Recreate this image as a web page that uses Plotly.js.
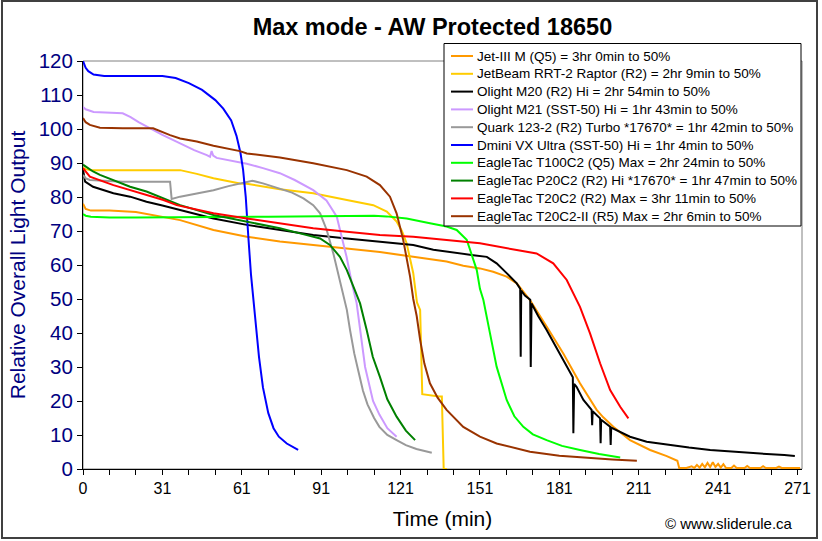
<!DOCTYPE html>
<html>
<head>
<meta charset="utf-8">
<script src="https://cdn.plot.ly/plotly-3.0.1.min.js"></script>
<style>
  html, body { margin: 0; padding: 0; background: #fff; }
  #wrap { position: relative; width: 822px; height: 541px; }
  #chart { position: absolute; left: 0; top: 0; width: 822px; height: 541px; }
  #frame { position: absolute; left: 1px; top: 0px; width: 817px; height: 539px; border: 2px solid #404040; box-sizing: border-box; pointer-events: none; }
</style>
</head>
<body>
<div id="wrap"><div id="chart"></div><div id="frame"></div></div>
<script>
// Tick labels (x axis, labels every third tick)
const xTickVals = [0,10,20,30,40,50,60,70,80,90,100,110,120,130,140,150,160,170,180,190,200,210,220,230,240,250,260,270];
const xTickText = ['0','','','31','','','61','','','91','','','121','','','151','','','181','','','211','','','241','','','271'];

const seriesNames = [
  'Jet-III M (Q5) = 3hr 0min to 50%',
  'JetBeam RRT-2 Raptor (R2) = 2hr 9min to 50%',
  'Olight M20 (R2) Hi = 2hr 54min to 50%',
  'Olight M21 (SST-50) Hi = 1hr 43min to 50%',
  'Quark 123-2 (R2) Turbo *17670* = 1hr 42min to 50%',
  'Dmini VX Ultra (SST-50) Hi = 1hr 4min to 50%',
  'EagleTac T100C2 (Q5) Max = 2hr 24min to 50%',
  'EagleTac P20C2 (R2) Hi *17670* = 1hr 47min to 50%',
  'EagleTac T20C2 (R2) Max = 3hr 11min to 50%',
  'EagleTac T20C2-II (R5) Max = 2hr 6min to 50%'
];
const seriesColors = ['#FF9900','#FFCC00','#000000','#CC99FF','#999999','#0000FF','#00FF00','#008000','#FF0000','#993300'];

// Jet-III M (orange)
const jet3X = [0,1,3,10,20,28,36.7,49.3,61.9,74.4,87,99.7,112.2,124.8,137.4,143.7,150,155,160.1,163.9,168.9,175.2,181.5,187.8,194.1,196.6,200.4,206.7,208,214.3,220.6,223.7,224.6,225.3,228,230,231,232,233,234,235,236,237,238,239,240,241,242,243,245,246,247,250,251,252,256,257,258,262,263,264,271];
const jet3Y = [78,76.5,76,76,75.6,74.5,73.2,70.3,68.3,66.9,65.9,64.9,63.8,62.4,61,59.8,59,58,56.6,54.6,49.7,41.9,34,25.2,17.4,15.2,12.4,8.5,8,5.6,3.8,2.8,2.4,0.3,0.3,0.8,0.3,1.2,0.4,1.5,0.5,1.8,0.6,2.0,0.6,1.5,0.4,1.4,0.3,0.3,1.0,0.3,0.3,0.9,0.3,0.3,0.8,0.3,0.3,0.7,0.3,0.3];

// JetBeam RRT-2 Raptor (gold)
const rrt2X = [0,1,3,10,20,30,36.7,43,49.3,59.3,61.9,74.4,87,99.7,109.7,114.8,118.5,120.5,122.3,124.8,126.2,127.4,127.8,128.2,134.5,135.6,136.3,137.5];
const rrt2Y = [88.6,88.2,87.9,87.9,87.9,87.9,87.9,86.8,85.5,84,83.9,82.3,81.1,79.1,77.6,75.7,72.8,70,66.4,57.6,49,46.8,32,22,21.3,21.3,0,0];

// Olight M20 (black)
const m20X = [0,0.8,3.8,11.5,17.8,24,30,36.7,49.3,61.9,74.4,87,99.7,112.2,124.8,132.4,137.4,147.5,152.6,156.3,160.1,163.9,165.2,165.4,165.6,167,169,169.2,169.5,172,175.2,181.5,185.1,185.3,185.6,186.5,189.1,192.2,192.4,192.6,195.4,195.6,195.8,199.2,199.4,199.6,203,206.7,213,220.6,229,237,248,258.4,265,269];
const m20Y = [88,84.5,83,81.1,80.1,78.6,77.5,76.2,73.7,71.8,70.3,68.8,67.8,66.9,65.9,64.5,63.9,62.9,62.4,60.5,57.6,54.6,53,33,52.5,51,49.8,30,48.7,45,40.9,32,27,10.5,25,24.2,20.3,17.4,12.9,17,14.9,7.6,14.5,12.4,7.1,12.2,10.8,9.5,8,7.1,6.3,5.6,4.9,4.4,4.1,3.8];

// Olight M21 (lilac)
const m21X = [0,1,4,10,15,18,21,24,30,36.7,42,46.8,48,48.6,49.2,50.5,55,61.9,68,74.4,80,87,92,95.9,99.6,101.5,103.4,104.7,106.6,109.6,112,115,118.5];
const m21Y = [106.5,105.8,105,104.8,104.6,103.5,102,100.8,98.3,95.8,93.8,92.3,91.8,93.5,92.2,91.5,90.8,89.8,88.5,87,85,82,79,74.2,62.4,55,48.8,40.9,30,20,16,12,9.5];

// Quark 123-2 (gray)
const quarkX = [0,1,2.6,10,15,25,32.9,33.5,36.7,43,49.3,55,61.9,64,68,74.4,79,83.3,87,89.6,92.1,94.6,97.1,99.7,100.9,102.5,104,105.8,107.5,110,112,115,118.5,122,126,131.8];
const quarkY = [86.5,85.5,85,84.6,84.5,84.5,84.5,79.4,80.1,81,82,83.2,84.5,84.8,84,82.5,81.3,79.6,77.6,75.2,70.3,63.4,55.6,46.8,40.9,34,29,23,19,15,12.4,10,8.5,7,5.9,4.8];

// Dmini VX Ultra (blue)
const dminiX = [0,1,2,4,8,20,30,35,40,45,50,53,56,58,59.5,60.5,61.5,62.5,63.5,65,66.5,68,70,72,74,77,81.3];
const dminiY = [120,118,117,116,115.6,115.6,115.6,115,113.5,111.5,108.5,106,102.5,98,93,88,80,68,57,45,33,24,16.5,12,9.5,7.5,5.6];

// EagleTac T100C2 (green)
const t100X = [0,1,3,10,20,30,36.7,50,60,70,80,90,100,110,114.7,122.3,131.1,137.4,141.2,145,146.3,147.5,148.8,150,151.3,153.8,156.3,160.1,163,166.4,170,175.2,181,187.8,195,203];
const t100Y = [75,74.5,74.2,74,74,74,74,74,74,74.2,74.3,74.4,74.5,74.5,74.3,73.7,72.3,71.3,70.3,67.4,64.4,61.5,58.5,53,49.7,39.9,30.1,20.3,15.5,12.4,10.2,8.5,6.8,5.6,4.4,3.4];

// EagleTac P20C2 (dark green)
const p20X = [0,1,3.8,6.4,11.5,17.8,24,30.4,36.7,49.3,61.9,74.4,82,89.6,93.3,97.1,99.7,102.2,104.7,107.2,109.5,112.2,115,118.5,122,125.5];
const p20Y = [89.5,89,87.5,86.5,85,83,81.6,79.6,77.6,74.7,72.8,70.8,69.3,67.8,65.9,62.4,58.5,53.6,48.7,40.9,33,27.1,20.5,15.4,11.3,8.5];

// EagleTac T20C2 (red)
const t20X = [0,1,2.6,11.5,17.8,24,30.4,35.4,49.3,61.9,74.4,87,99.7,112.2,124.8,137.4,150,163.9,171.4,177.7,182.8,187.8,191.6,195.4,199.2,203,206.1];
const t20Y = [88.5,87.5,86,83.5,82.1,80.6,79.1,77.6,75.2,73.7,72.3,70.8,69.8,68.8,68.3,67.4,66.4,64.4,63.4,60.5,55.6,47.7,39.9,31.1,23.2,18.3,14.9];

// EagleTac T20C2-II (brown)
const t20iiX = [0,1,2.6,6.4,15,26.5,32.9,36.7,43,49.3,59.3,61.9,74.4,87,99.7,107.2,112.2,116,118.5,121,123.6,124.8,126.1,127.4,129,131.1,134,137.4,143.7,150,156.3,168.9,180,187.8,200,209.3];
const t20iiY = [103.2,102,101.2,100.4,100.2,100.2,98.2,97.2,96.3,95.1,93.5,92.8,91.6,89.9,87.9,86,83.5,80.1,75.2,67.4,56.6,50,45,38,31,25.2,21,17.4,12.4,9.5,7.5,5.1,3.9,3.4,2.8,2.4];

const xs = [jet3X, rrt2X, m20X, m21X, quarkX, dminiX, t100X, p20X, t20X, t20iiX];
const ys = [jet3Y, rrt2Y, m20Y, m21Y, quarkY, dminiY, t100Y, p20Y, t20Y, t20iiY];

const traces = seriesNames.map((n, i) => ({
  type: 'scatter', mode: 'lines', name: n,
  x: xs[i], y: ys[i], showlegend: false,
  line: { color: seriesColors[i], width: 2 }
}));

// Plot area in pixels (for placing the legend box in paper coordinates)
const PL = 83, PR = 802, PT = 61, PB = 469;
const px2p = px => (px - PL) / (PR - PL);
const py2p = py => (PB - py) / (PB - PT);

const FONT = 'Arial, "Liberation Sans", sans-serif';

const shapes = [{
  type: 'rect', xref: 'paper', yref: 'paper', x0: 0, x1: 1, y0: 0, y1: 1,
  line: { color: '#808080', width: 1 }, layer: 'below'
}, {
  type: 'rect', xref: 'paper', yref: 'paper',
  x0: px2p(444), x1: px2p(801), y0: py2p(226), y1: py2p(43.5),
  line: { color: '#000000', width: 1 }, fillcolor: '#ffffff', layer: 'above'
}];
const annotations = [{
  text: '© www.sliderule.ca', xref: 'paper', yref: 'paper',
  x: px2p(795), xanchor: 'right', y: py2p(523), yanchor: 'middle',
  showarrow: false, font: { size: 15, family: FONT, color: '#000000' }
}];
seriesNames.forEach((n, i) => {
  const yc = 56 + i * 17.8;
  shapes.push({
    type: 'line', xref: 'paper', yref: 'paper',
    x0: px2p(451), x1: px2p(473), y0: py2p(yc), y1: py2p(yc),
    line: { color: seriesColors[i], width: 2 }, layer: 'above'
  });
  annotations.push({
    text: n, xref: 'paper', yref: 'paper',
    x: px2p(475), xanchor: 'left', y: py2p(yc), yanchor: 'middle',
    showarrow: false, font: { size: 13.5, family: FONT, color: '#000000' }
  });
});

const layout = {
  width: 822, height: 541,
  margin: { l: PL, r: 822 - PR, t: PT, b: 541 - PB },
  paper_bgcolor: '#ffffff', plot_bgcolor: '#ffffff',
  font: { family: FONT, color: '#000000' },
  title: {
    text: '<b>Max mode - AW Protected 18650</b>',
    font: { size: 23.5, family: FONT, color: '#000000' },
    xref: 'paper', x: 0.486, xanchor: 'center',
    yref: 'container', y: 0.95, yanchor: 'middle'
  },
  xaxis: {
    range: [0, 271.7], tickmode: 'array', tickvals: xTickVals, ticktext: xTickText,
    ticks: 'outside', ticklen: 5, tickcolor: '#000000', tickwidth: 1,
    showline: true, linecolor: '#000000', linewidth: 1,
    showgrid: false, zeroline: false,
    tickfont: { size: 16, family: FONT, color: '#000000' },
    title: { text: 'Time (min)', font: { size: 21, family: FONT, color: '#000000' }, standoff: 15 },
    automargin: false
  },
  yaxis: {
    range: [0, 120], dtick: 10, tick0: 0,
    ticks: 'outside', ticklen: 5, tickcolor: '#000000', tickwidth: 1,
    showline: true, linecolor: '#000000', linewidth: 1,
    showgrid: false, zeroline: false,
    tickfont: { size: 20.5, family: FONT, color: '#000080' },
    title: { text: 'Relative Overall Light Output', font: { size: 21, family: FONT, color: '#000080' }, standoff: 7 },
    automargin: false
  },
  shapes: shapes,
  annotations: annotations,
  showlegend: false
};

Plotly.newPlot('chart', traces, layout, { staticPlot: true, displayModeBar: false });
</script>
</body>
</html>
